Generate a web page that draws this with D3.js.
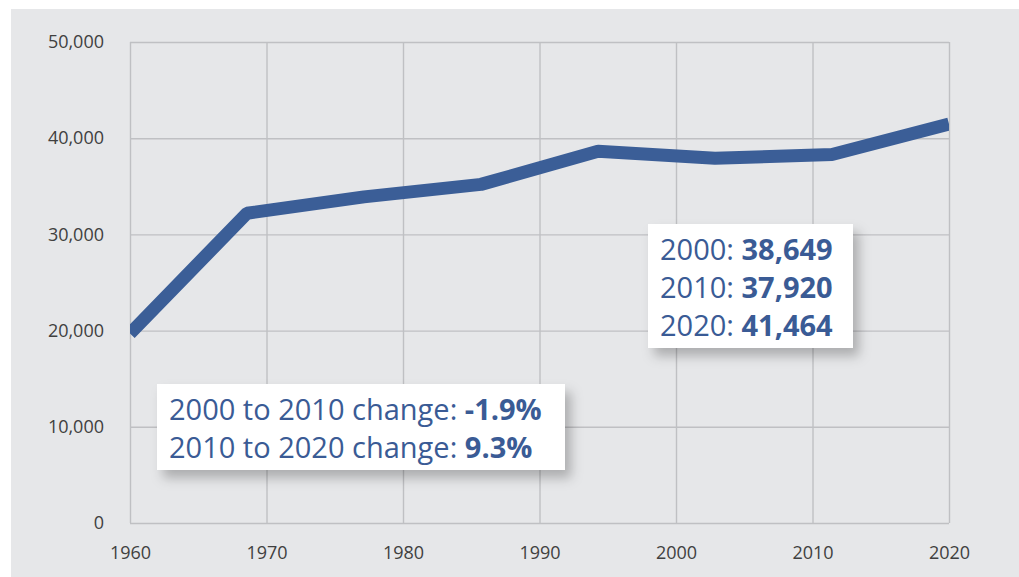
<!DOCTYPE html>
<html>
<head>
<meta charset="utf-8">
<script src="https://cdn.jsdelivr.net/npm/d3@7"></script>
<style>
    body { margin: 0; background: #fff; }
    svg { display: block; font-family: "Open Sans", "Noto Sans", sans-serif; }
    .axis text { fill: #404040; font-size: 18px; font-family: "Open Sans", "Noto Sans", sans-serif; }
    .axis line { stroke: #bfc0c3; stroke-width: 1.4; }
    .axis .domain { display: none; }
    .note { fill: #3a5b95; font-size: 29px; }
    .note .num { font-weight: 700; }
</style>
</head>
<body>
<div id="chart"></div>
<script>
// line vertices, evenly spread across the 1960-2020 axis
const pointIds = ["p1", "p2", "p3", "p4", "p5", "p6", "p7", "p8"]
const values = [19700, 32200, 33900, 35200, 38649, 37920, 38300, 41464]

const yearTicks = [1960, 1970, 1980, 1990, 2000, 2010, 2020]
const valueTicks = [0, 10000, 20000, 30000, 40000, 50000]

const popLines = [["2000: ", "38,649"], ["2010: ", "37,920"], ["2020: ", "41,464"]]
const changeLines = [["2000 to 2010 change: ", "-1.9%"], ["2010 to 2020 change: ", "9.3%"]]

const width = 1019
const height = 577
const plot = { left: 130, right: 949, top: 42, bottom: 523 }

const yearScale = d3.scaleLinear()
    .domain(d3.extent(yearTicks))
    .range([plot.left, plot.right])

const xPoint = d3.scalePoint()
    .domain(pointIds)
    .range([plot.left, plot.right])

const y = d3.scaleLinear()
    .domain([0, 50000])
    .range([plot.bottom, plot.top])

const svg = d3.select('#chart').append('svg')
    .attr('width', width)
    .attr('height', height)

const defs = svg.append('defs')
defs.append('clipPath').attr('id', 'plotClip')
    .append('rect')
    .attr('x', plot.left).attr('y', plot.top)
    .attr('width', plot.right - plot.left)
    .attr('height', plot.bottom - plot.top)

const shadow = defs.append('filter').attr('id', 'shadow')
    .attr('x', '-10%').attr('y', '-20%')
    .attr('width', '130%').attr('height', '160%')
shadow.append('feDropShadow')
    .attr('dx', 6).attr('dy', 8)
    .attr('stdDeviation', 6)
    .attr('flood-color', '#000')
    .attr('flood-opacity', 0.25)

// grey panel
svg.append('rect')
    .attr('x', 11).attr('y', 9)
    .attr('width', width - 11).attr('height', height - 9)
    .attr('fill', '#e6e7e9')

//gridlines + labels
svg.append('g')
    .attr('class', 'axis')
    .attr('transform', 'translate(' + plot.left + ',0)')
    .call(d3.axisLeft(y)
        .tickValues(valueTicks)
        .tickSize(-(plot.right - plot.left))
        .tickPadding(26)
        .tickFormat(d3.format(',')))

svg.append('g')
    .attr('class', 'axis')
    .attr('transform', 'translate(0,' + plot.bottom + ')')
    .call(d3.axisBottom(yearScale)
        .tickValues(yearTicks)
        .tickSize(-(plot.bottom - plot.top))
        .tickPadding(23)
        .tickFormat(d3.format('d')))

// the series
const line = d3.line()
    .x((d, i) => xPoint(pointIds[i]))
    .y(d => y(d))

svg.append('path')
    .datum(values)
    .attr('clip-path', 'url(#plotClip)')
    .attr('fill', 'none')
    .attr('stroke', '#3b5e97')
    .attr('stroke-width', 13)
    .attr('stroke-linejoin', 'bevel')
    .attr('d', line)

function noteBox(x, y0, w, h, rows, lineGap) {
    let g = svg.append('g')
    g.append('rect')
        .attr('x', x).attr('y', y0)
        .attr('width', w).attr('height', h)
        .attr('fill', '#fff')
        .attr('filter', 'url(#shadow)')
    let t = g.selectAll('text')
        .data(rows)
        .enter().append('text')
        .attr('class', 'note')
        .attr('x', x + 12)
        .attr('y', (d, i) => y0 + 36 + i * lineGap)
    t.append('tspan').text(d => d[0])
    t.append('tspan').attr('class', 'num').text(d => d[1])
}

noteBox(648, 224, 205, 124, popLines, 38)
noteBox(157, 384, 408, 86, changeLines, 38)
</script>
</body>
</html>
